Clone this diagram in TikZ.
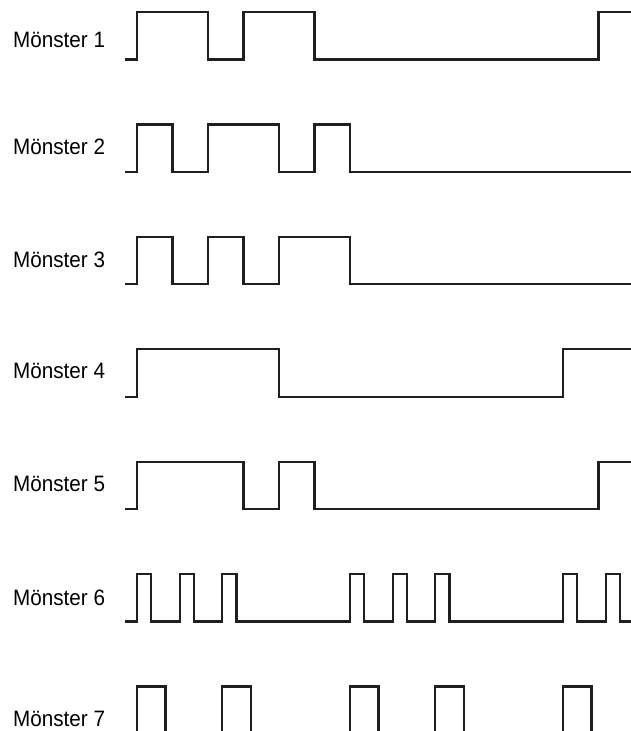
\documentclass[tikz,border=0pt]{standalone}
\usepackage{fontspec}
\setmainfont{Liberation Sans}
\tikzset{
  pulseline/.style={line width=2.2pt, color=black!88},
  rowlabel/.style={anchor=base west, inner sep=0pt, font=\fontsize{22.3}{26}\selectfont}
}
\newcommand{\rowtext}[1]{\scalebox{0.927}[1]{#1}}
\begin{document}
\begin{tikzpicture}[x=1pt,y=-1pt]
\clip (0,0) rectangle (631,731);
\node [rowlabel] (m1) at (13,47) {\rowtext{Mönster 1}};
\node [rowlabel] (m2) at (13,154.5) {\rowtext{Mönster 2}};
\node [rowlabel] (m3) at (13,267) {\rowtext{Mönster 3}};
\node [rowlabel] (m4) at (13,378.5) {\rowtext{Mönster 4}};
\node [rowlabel] (m5) at (13,491.5) {\rowtext{Mönster 5}};
\node [rowlabel] (m6) at (13,605) {\rowtext{Mönster 6}};
\node [rowlabel] (m7) at (13,726) {\rowtext{Mönster 7}};
% Muster 1
\draw [pulseline] (125,59.5) -- (137,59.5) -- (137,12) -- (208,12) -- (208,59.5) -- (243.5,59.5) -- (243.5,12) -- (314.5,12) -- (314.5,59.5) -- (598.5,59.5) -- (598.5,12) -- (640,12);
% Muster 2
\draw [pulseline] (125,171.9) -- (137,171.9) -- (137,124.4) -- (172.5,124.4) -- (172.5,171.9) -- (208,171.9) -- (208,124.4) -- (279,124.4) -- (279,171.9) -- (314.5,171.9) -- (314.5,124.4) -- (350,124.4) -- (350,171.9) -- (640,171.9);
% Muster 3
\draw [pulseline] (125,284.3) -- (137,284.3) -- (137,236.8) -- (172.5,236.8) -- (172.5,284.3) -- (208,284.3) -- (208,236.8) -- (243.5,236.8) -- (243.5,284.3) -- (279,284.3) -- (279,236.8) -- (350,236.8) -- (350,284.3) -- (640,284.3);
% Muster 4
\draw [pulseline] (125,396.7) -- (137,396.7) -- (137,349.2) -- (279,349.2) -- (279,396.7) -- (563,396.7) -- (563,349.2) -- (640,349.2);
% Muster 5
\draw [pulseline] (125,509.1) -- (137,509.1) -- (137,461.6) -- (243.5,461.6) -- (243.5,509.1) -- (279,509.1) -- (279,461.6) -- (314.5,461.6) -- (314.5,509.1) -- (598.5,509.1) -- (598.5,461.6) -- (640,461.6);
% Muster 6
\draw [pulseline] (125,621.5) -- (137,621.5) -- (137,574) -- (151.2,574) -- (151.2,621.5) -- (179.6,621.5) -- (179.6,574) -- (193.8,574) -- (193.8,621.5) -- (222.2,621.5) -- (222.2,574) -- (236.4,574) -- (236.4,621.5)
  -- (350,621.5) -- (350,574) -- (364.2,574) -- (364.2,621.5) -- (392.6,621.5) -- (392.6,574) -- (406.8,574) -- (406.8,621.5) -- (435.2,621.5) -- (435.2,574) -- (449.4,574) -- (449.4,621.5)
  -- (563,621.5) -- (563,574) -- (577.2,574) -- (577.2,621.5) -- (605.6,621.5) -- (605.6,574) -- (619.8,574) -- (619.8,621.5) -- (640,621.5);
% Muster 7
\draw [pulseline] (125,734) -- (137,734) -- (137,686.4) -- (165.4,686.4) -- (165.4,734) -- (222.2,734) -- (222.2,686.4) -- (250.6,686.4) -- (250.6,734)
  -- (350,734) -- (350,686.4) -- (378.4,686.4) -- (378.4,734) -- (435.2,734) -- (435.2,686.4) -- (463.6,686.4) -- (463.6,734)
  -- (563,734) -- (563,686.4) -- (591.4,686.4) -- (591.4,734) -- (640,734);
\end{tikzpicture}
\end{document}
